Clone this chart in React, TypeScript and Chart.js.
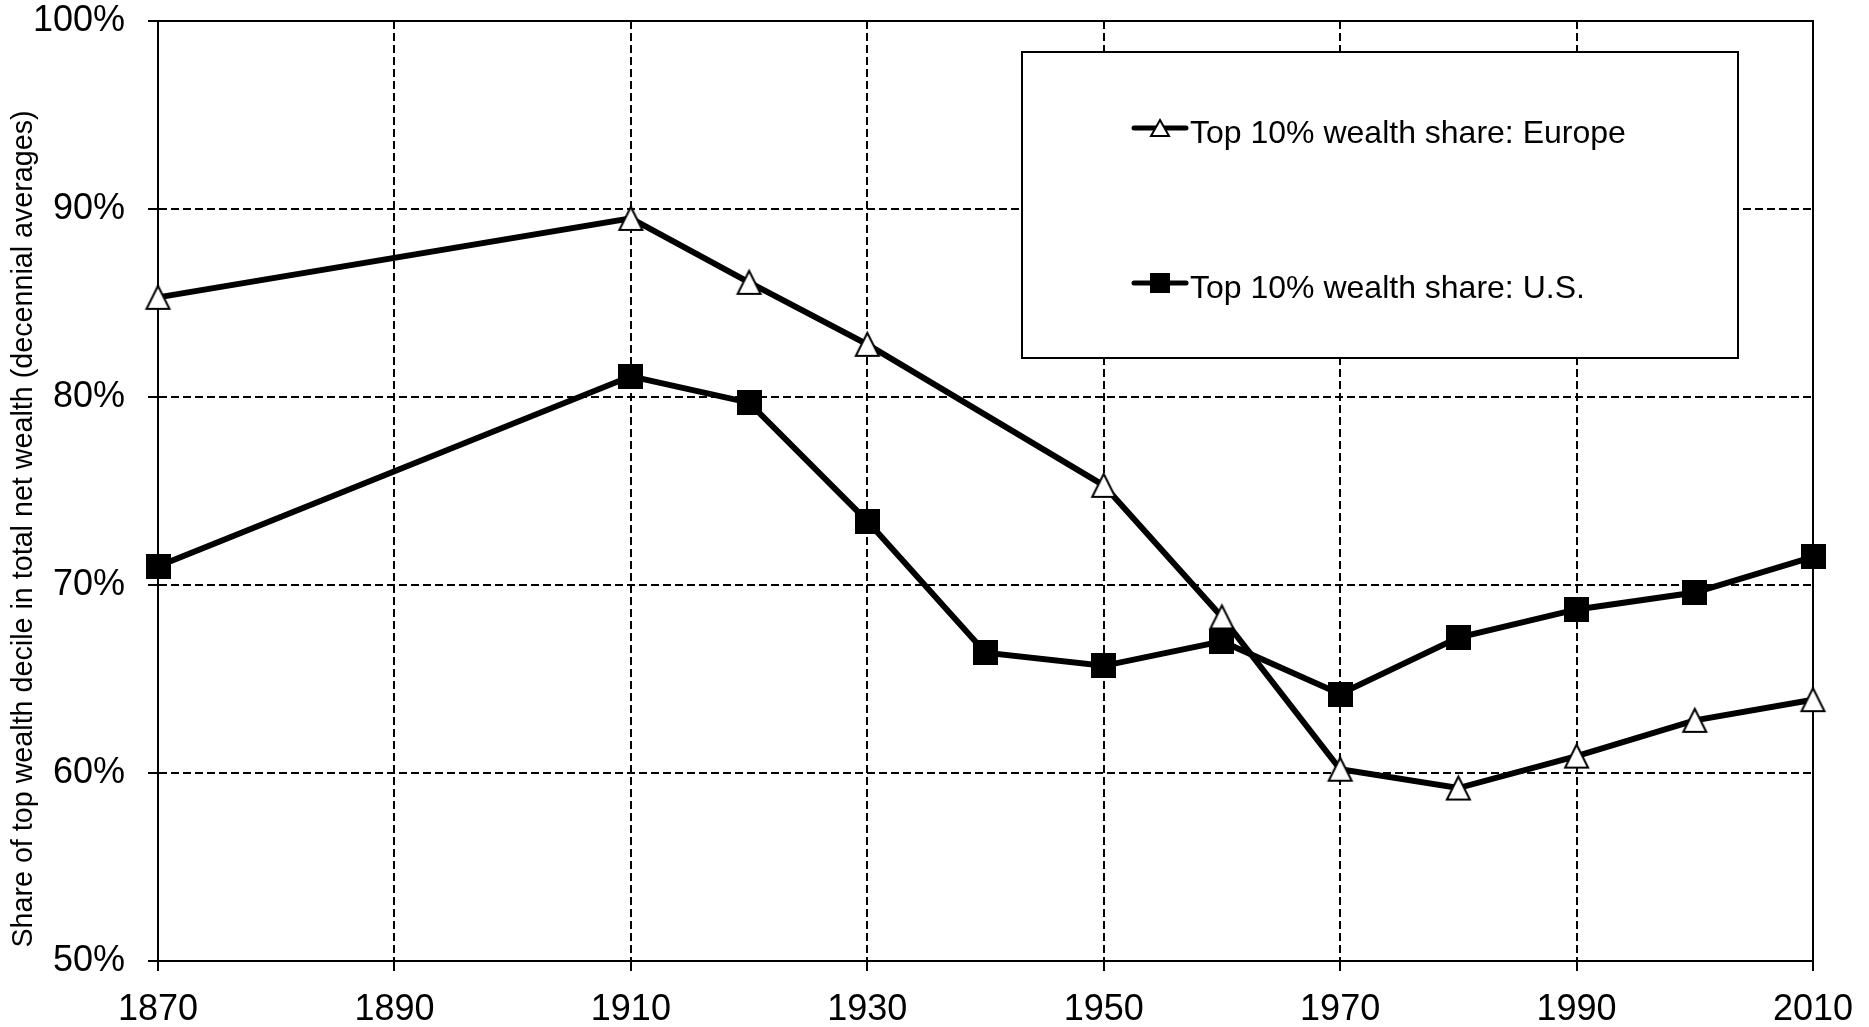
import React, { useEffect, useRef } from "react";
import { Chart, registerables } from "chart.js";

Chart.register(...registerables);

const euroYears = [1870, 1910, 1920, 1930, 1950, 1960, 1970, 1980, 1990, 2000, 2010];
const euroShare = [85.3, 89.5, 86.1, 82.8, 75.3, 68.3, 60.2, 59.2, 60.9, 62.8, 63.9];

const usYears = [1870, 1910, 1920, 1930, 1940, 1950, 1960, 1970, 1980, 1990, 2000, 2010];
const usShare = [71.0, 81.1, 79.7, 73.4, 66.4, 65.7, 67.0, 64.2, 67.2, 68.7, 69.6, 71.5];

const euroLabel = "Top 10% wealth share: Europe";
const usLabel = "Top 10% wealth share: U.S.";
const yTitle = "Share of top wealth decile in total net wealth (decennial averages)";

const FONT = '"Liberation Sans", Arial, sans-serif';

function makeTriangle(w: number, h: number, lw: number) {
  const c = document.createElement("canvas");
  c.width = Math.ceil(w + lw * 2 + 2);
  c.height = Math.ceil(h + lw * 2 + 2);
  const ctx = c.getContext("2d")!;
  const cx = c.width / 2;
  const cy = c.height / 2;
  ctx.beginPath();
  ctx.moveTo(cx, cy - h / 2);
  ctx.lineTo(cx + w / 2, cy + h / 2);
  ctx.lineTo(cx - w / 2, cy + h / 2);
  ctx.closePath();
  ctx.fillStyle = "#ffffff";
  ctx.fill();
  ctx.lineWidth = lw;
  ctx.lineJoin = "miter";
  ctx.strokeStyle = "#000000";
  ctx.stroke();
  return c;
}

function makeSquare(s: number) {
  const c = document.createElement("canvas");
  c.width = s;
  c.height = s;
  const ctx = c.getContext("2d")!;
  ctx.fillStyle = "#000000";
  ctx.fillRect(0, 0, s, s);
  return c;
}

export default function App() {
  const ref = useRef<HTMLCanvasElement | null>(null);

  useEffect(() => {
    if (!ref.current) return;
    const tri = makeTriangle(23, 23, 2);
    const sq = makeSquare(25);
    const triLegend = makeTriangle(18, 16, 2);
    const sqLegend = makeSquare(20);

    const framePlugin = {
      id: "frame",
      beforeDatasetsDraw(chart: any) {
        const { ctx, chartArea } = chart;
        ctx.save();
        ctx.strokeStyle = "#000";
        ctx.lineWidth = 2;
        ctx.setLineDash([]);
        ctx.strokeRect(chartArea.left, chartArea.top, chartArea.right - chartArea.left, chartArea.bottom - chartArea.top);
        ctx.restore();
      },
      afterDraw(chart: any) {
        const { ctx } = chart;
        ctx.save();
        // y axis title
        ctx.translate(24, 529);
        ctx.rotate(-Math.PI / 2);
        ctx.fillStyle = "#000";
        ctx.font = `28.7px ${FONT}`;
        ctx.textAlign = "center";
        ctx.textBaseline = "middle";
        ctx.fillText(yTitle, 0, 0);
        ctx.restore();

        // legend box
        ctx.save();
        ctx.fillStyle = "#fff";
        ctx.fillRect(1022, 52, 716, 306);
        ctx.strokeStyle = "#000";
        ctx.lineWidth = 2;
        ctx.strokeRect(1022, 52, 716, 306);
        const entries = [
          { y: 128, label: euroLabel, img: triLegend },
          { y: 283, label: usLabel, img: sqLegend },
        ];
        for (const e of entries) {
          ctx.beginPath();
          ctx.lineWidth = 5;
          ctx.lineCap = "round";
          ctx.strokeStyle = "#000";
          ctx.moveTo(1134, e.y);
          ctx.lineTo(1186, e.y);
          ctx.stroke();
          ctx.drawImage(e.img, 1160 - e.img.width / 2, e.y - e.img.height / 2);
          ctx.fillStyle = "#000";
          ctx.font = `32px ${FONT}`;
          ctx.textAlign = "left";
          ctx.textBaseline = "alphabetic";
          ctx.fillText(e.label, 1190, e.y + 15);
        }
        ctx.restore();
      },
    };

    const chart = new Chart(ref.current, {
      type: "line",
      data: {
        datasets: [
          {
            label: euroLabel,
            data: euroYears.map((x, i) => ({ x, y: euroShare[i] })),
            borderColor: "#000",
            backgroundColor: "#fff",
            borderWidth: 6,
            pointStyle: tri as any,
            pointRadius: 13,
            pointHoverRadius: 13,
            tension: 0,
            clip: false as any,
            order: 1,
          },
          {
            label: usLabel,
            data: usYears.map((x, i) => ({ x, y: usShare[i] })),
            borderColor: "#000",
            backgroundColor: "#000",
            borderWidth: 6,
            pointStyle: sq as any,
            pointRadius: 13,
            pointHoverRadius: 13,
            tension: 0,
            clip: false as any,
            order: 0,
          },
        ],
      },
      options: {
        animation: false,
        responsive: false,
        maintainAspectRatio: false,
        layout: { padding: { left: 0, top: 21, right: 56, bottom: 0 } },
        plugins: {
          legend: { display: false },
          tooltip: { enabled: false },
          title: { display: false },
        },
        scales: {
          x: {
            type: "linear",
            min: 1870,
            max: 2010,
            afterFit: (s: any) => {
              s.height = 66;
              s.paddingLeft = 0;
              s.paddingRight = 0;
              s.paddingTop = 0;
              s.paddingBottom = 0;
            },
            ticks: {
              stepSize: 20,
              autoSkip: false,
              maxRotation: 0,
              color: "#000",
              padding: 21,
              font: { family: FONT, size: 36, lineHeight: 1 },
              callback: (v: any) => String(v),
            },
            grid: {
              color: "#000",
              lineWidth: 2,
              drawTicks: true,
              tickLength: 10,
              tickColor: "#000",
              tickWidth: 2,
            },
            border: { display: true, color: "#000", width: 2, dash: [8, 4] },
          },
          y: {
            type: "linear",
            min: 50,
            max: 100,
            afterFit: (s: any) => {
              s.width = 158;
              s.paddingLeft = 0;
              s.paddingRight = 0;
              s.paddingTop = 0;
              s.paddingBottom = 0;
            },
            ticks: {
              stepSize: 10,
              color: "#000",
              padding: 23,
              font: { family: FONT, size: 36, lineHeight: 1 },
              callback: (v: any) => `${v}%`,
            },
            grid: {
              color: "#000",
              lineWidth: 2,
              drawTicks: true,
              tickLength: 10,
              tickColor: "#000",
              tickWidth: 2,
            },
            border: { display: true, color: "#000", width: 2, dash: [8, 4] },
          },
        },
      },
      plugins: [framePlugin],
    });

    return () => chart.destroy();
  }, []);

  return (
    <div style={{ position: "absolute", left: 0, top: 0, width: 1869, height: 1027, background: "#fff" }}>
      <canvas ref={ref} width={1869} height={1027} style={{ display: "block" }} />
    </div>
  );
}
